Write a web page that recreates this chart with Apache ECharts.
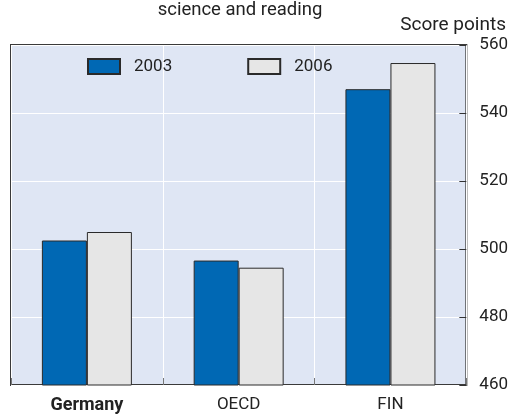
<!DOCTYPE html>
<html>
<head>
<meta charset="utf-8">
<script src="https://cdn.jsdelivr.net/npm/echarts@6/dist/echarts.min.js"></script>
<style>
  html, body { margin: 0; padding: 0; background: #fff; }
</style>
</head>
<body>
<div id="chart" style="width: 511px; height: 415px"></div>
<script>
// data
const countries = ["Germany", "OECD", "FIN"]
const years = ["2003", "2006"]
const scores2003 = [502.5, 496.6, 547]
const scores2006 = [505, 494.5, 554.7]
const yTicks = { min: 460, max: 560, step: 20 }

const font = "Roboto, 'Liberation Sans', sans-serif"
const chart = echarts.init(document.getElementById("chart"))

chart.setOption({
  animation: false,
  textStyle: { fontFamily: font },
  graphic: [
    {
      type: "text",
      x: 240,
      y: 1,
      style: { text: "science and reading", font: "18.5px " + font, fill: "#222", align: "center" },
    },
    {
      type: "text",
      right: 5,
      top: 16,
      style: { text: "Score points", font: "19px " + font, fill: "#222" },
    },
  ],
  legend: {
    data: years,
    left: 87,
    top: 58,
    padding: 0,
    icon: "rect",
    itemWidth: 32,
    itemHeight: 15,
    itemGap: 75,
    textStyle: { fontFamily: font, fontSize: 17, color: "#222", padding: [0, 0, 0, 9] },
  },
  grid: {
    left: 11,
    right: 42,
    top: 45,
    bottom: 30,
    show: true,
    backgroundColor: "#dfe6f4",
    borderColor: "#3a3a3a",
    borderWidth: 2,
  },
  xAxis: {
    type: "category",
    data: countries,
    axisLine: { show: false },
    axisTick: { show: true, inside: true, length: 7, lineStyle: { color: "#777" } },
    splitLine: { show: true, lineStyle: { color: "#fff", width: 1 } },
    axisLabel: {
      margin: 11,
      fontSize: 17,
      color: "#222",
      fontFamily: font,
      formatter: (v) => (v === "Germany" ? "{b|" + v + "}" : v),
      rich: { b: { fontWeight: "bold", fontSize: 18, fontFamily: font, color: "#222" } },
    },
  },
  yAxis: {
    type: "value",
    position: "right",
    min: yTicks.min,
    max: yTicks.max,
    interval: yTicks.step,
    axisLine: { show: false },
    axisTick: { show: true, inside: true, length: 7, lineStyle: { color: "#333" } },
    splitLine: { show: true, lineStyle: { color: "#fff", width: 1 } },
    axisLabel: { margin: 13, fontSize: 17, color: "#222", fontFamily: font },
  },
  series: [
    {
      name: years[0],
      type: "bar",
      data: scores2003,
      barWidth: 45,
      barGap: 0,
      itemStyle: { color: "#0068b4", borderColor: "#2a2a2a", borderWidth: 1 },
    },
    {
      name: years[1],
      type: "bar",
      data: scores2006,
      barWidth: 45,
      barGap: 0,
      itemStyle: { color: "#e6e6e6", borderColor: "#2a2a2a", borderWidth: 1 },
    },
  ],
})
</script>
</body>
</html>
